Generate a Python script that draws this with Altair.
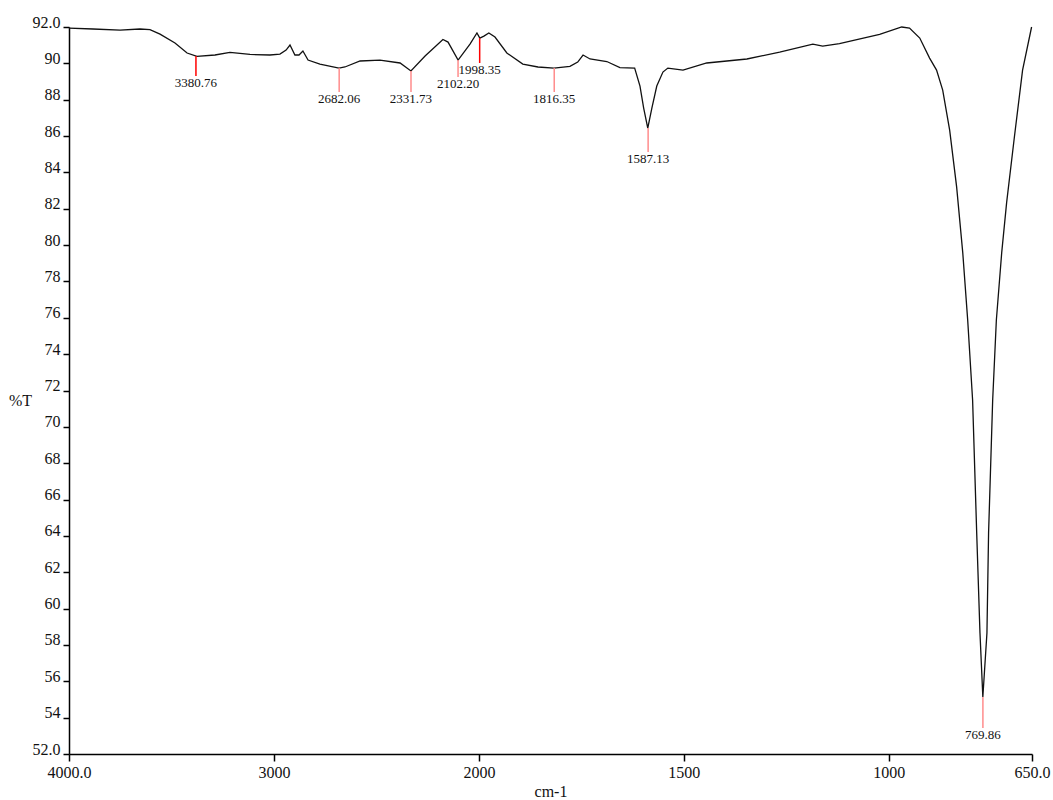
import altair as alt
import pandas as pd

# Spectrum trace (wavenumber cm-1, %T)
wn_curve = [4000, 3883, 3751, 3654, 3605, 3556, 3483, 3424, 3376, 3288, 3215, 3117,
            3020, 2971, 2941, 2922, 2898, 2878, 2859, 2834, 2776, 2683, 2654, 2580,
            2483, 2385, 2332, 2263, 2176, 2151, 2102, 2044, 2010, 1998, 1988, 1976,
            1961, 1932, 1893, 1856, 1817, 1778, 1759, 1746, 1729, 1688, 1656, 1620,
            1607, 1598, 1588, 1578, 1566, 1551, 1539, 1502, 1444, 1346, 1266, 1185,
            1161, 1120, 1022, 968, 949, 924, 900, 883, 868, 851, 834, 819, 807, 795,
            785, 777, 770, 760, 756, 746, 737, 724, 712, 693, 673, 651]
t_curve = [91.94, 91.89, 91.83, 91.89, 91.86, 91.61, 91.12, 90.57, 90.38, 90.46, 90.60, 90.49,
           90.46, 90.51, 90.73, 91.01, 90.46, 90.46, 90.68, 90.18, 89.96, 89.74, 89.80, 90.13,
           90.18, 90.02, 89.58, 90.40, 91.31, 91.17, 90.18, 91.06, 91.67, 91.39, 91.50, 91.67,
           91.45, 90.57, 89.96, 89.80, 89.74, 89.83, 90.07, 90.46, 90.24, 90.10, 89.77, 89.74,
           88.75, 87.54, 86.44, 87.54, 88.75, 89.52, 89.74, 89.63, 90.02, 90.24, 90.62, 91.06,
           90.95, 91.09, 91.59, 92.00, 91.94, 91.39, 90.29, 89.63, 88.53, 86.33, 83.20, 79.57, 75.88, 71.48,
           64.16, 58.66, 55.14, 58.66, 64.16, 71.48, 75.88, 79.57, 82.32, 85.95, 89.63, 92.00]

# Peak picks
peak_wn = [3380.76, 2682.06, 2331.73, 2102.20, 1998.35, 1816.35, 1587.13, 769.86]
peak_t = [90.40, 89.74, 89.58, 90.18, 91.39, 89.74, 86.44, 55.14]
peak_end = [89.30, 88.42, 88.42, 89.25, 90.02, 88.42, 85.12, 53.43]
peak_label = ["3380.76", "2682.06", "2331.73", "2102.20", "1998.35", "1816.35", "1587.13", "769.86"]
peak_kind = ["strong", "light", "light", "light", "strong", "light", "light", "light"]

x_ticks = [4000, 3000, 2000, 1500, 1000, 650]
y_ticks = [52, 54, 56, 58, 60, 62, 64, 66, 68, 70, 72, 74, 76, 78, 80, 82, 84, 86, 88, 90, 92]

curve = pd.DataFrame({"wn": wn_curve, "t": t_curve, "i": range(len(wn_curve))})
peaks = pd.DataFrame({"wn": peak_wn, "t": peak_t, "t2": peak_end,
                      "label": peak_label, "kind": peak_kind})

W, H = 963, 727
xscale = alt.Scale(domain=[4000, 2000, 650], range=[0, 410, W], nice=False, zero=False)
yscale = alt.Scale(domain=[52, 92], nice=False, zero=False)

FONT = "Liberation Serif"

xaxis = alt.Axis(values=x_ticks, title="cm-1", tickSize=7, titlePadding=3, labelFlush=False,
                 labelExpr="datum.value == 4000 || datum.value == 650 ? format(datum.value, '.1f') : format(datum.value, 'd')")
yaxis = alt.Axis(values=y_ticks, title="%T", tickSize=6, labelBaseline="alphabetic",
                 titleAngle=0, titleX=-49, titleY=373, titleAlign="center", titleBaseline="middle",
                 labelExpr="datum.value == 92 || datum.value == 52 ? format(datum.value, '.1f') : format(datum.value, 'd')")

line = alt.Chart(curve).mark_line(color="#111", strokeWidth=1.3).encode(
    x=alt.X("wn:Q", scale=xscale, axis=xaxis),
    y=alt.Y("t:Q", scale=yscale, axis=yaxis),
    order="i:Q",
)

rules = alt.Chart(peaks).mark_rule(strokeWidth=1.5).encode(
    x=alt.X("wn:Q", scale=xscale, axis=xaxis),
    y=alt.Y("t:Q", scale=yscale, axis=yaxis),
    y2="t2:Q",
    color=alt.Color("kind:N", scale=alt.Scale(domain=["strong", "light"],
                                              range=["#ff0000", "#ff8c8c"]), legend=None),
)

labels = alt.Chart(peaks).mark_text(font=FONT, fontSize=13, baseline="top", align="center",
                                    dy=1, color="#111").encode(
    x=alt.X("wn:Q", scale=xscale, axis=xaxis),
    y=alt.Y("t2:Q", scale=yscale, axis=yaxis),
    text="label:N",
)

chart = alt.layer(line, rules, labels).properties(
    width=W, height=H,
    autosize=alt.AutoSizeParams(type="none"),
    padding={"left": 69, "top": 27, "right": 21, "bottom": 46},
).configure_view(
    stroke=None
).configure_axis(
    grid=False, labelOverlap=False, labelBound=False,
    labelFont=FONT, labelFontSize=16, labelColor="#111", labelPadding=3,
    titleFont=FONT, titleFontSize=16, titleFontWeight="normal", titleColor="#111",
    domainColor="#000", domainWidth=1.5, tickColor="#000", tickWidth=1.5,
)

chart.save("out.html", embed_options={"renderer": "svg", "actions": False})
